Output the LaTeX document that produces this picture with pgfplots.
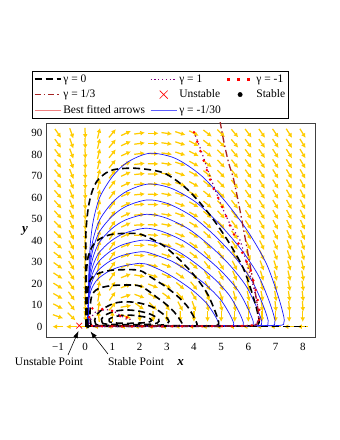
\documentclass[border=0pt]{standalone}
\usepackage{fontspec}
\setmainfont{Liberation Serif}
\usepackage{pgfplots}
\pgfplotsset{compat=1.18}
\usepackage{pgfplotstable}
\usetikzlibrary{arrows.meta}
\definecolor{arrowgold}{RGB}{255,204,0}
\definecolor{gbrown}{RGB}{165,35,35}
\definecolor{gpurple}{RGB}{128,0,128}
\definecolor{gblue}{RGB}{25,25,255}
\definecolor{gsalmon}{RGB}{240,128,128}

% direction field: screen angle (deg) of the arrow at x = -1 + 0.5*i (column ci), row y
\pgfplotstableread{
y c0 c1 c2 c3 c4 c5 c6 c7 c8 c9 c10 c11 c12 c13 c14 c15 c16 c17 c18
90.00 -55 -70 -88 76 50 25 8 0 -8 -18 -28 -38 -45 -50 -53 -55 -56 -57 -58
85.26 -54 -70 -88 76 50 25 8 0 -8 -18 -28 -38 -45 -50 -53 -55 -56 -57 -58
80.53 -53 -69 -88 76 51 25 7 -1 -8 -18 -28 -38 -45 -50 -53 -55 -57 -58 -59
75.79 -52 -69 -88 76 51 25 7 -1 -9 -19 -29 -39 -46 -51 -54 -56 -57 -58 -59
71.05 -51 -68 -88 76 52 25 6 -1 -9 -19 -29 -39 -46 -51 -54 -56 -58 -59 -60
66.32 -50 -68 -88 76 52 25 6 -2 -9 -19 -29 -39 -46 -51 -55 -57 -58 -60 -61
61.58 -49 -67 -88 76 53 25 6 -2 -10 -19 -29 -39 -46 -51 -55 -57 -59 -60 -62
56.84 -48 -67 -88 76 54 25 5 -2 -10 -20 -30 -40 -47 -52 -55 -58 -59 -61 -63
52.11 -47 -66 -88 76 54 25 5 -3 -10 -20 -30 -40 -47 -52 -56 -58 -60 -62 -63
47.37 -45 -65 -88 76 55 25 4 -3 -11 -21 -31 -41 -48 -53 -57 -60 -62 -64 -65
42.63 -42 -64 -88 77 55 24 3 -5 -12 -22 -32 -42 -49 -54 -58 -61 -63 -65 -67
37.89 -40 -62 -88 77 55 23 0 -8 -15 -25 -35 -45 -52 -57 -61 -64 -66 -68 -70
33.16 -38 -60 -88 77 55 22 -3 -10 -18 -28 -38 -48 -55 -60 -64 -67 -69 -71 -73
28.42 -36 -58 -87 78 55 22 -6 -13 -20 -31 -42 -52 -58 -63 -67 -70 -72 -74 -76
23.68 -33 -56 -87 78 55 21 -10 -17 -24 -35 -46 -56 -62 -67 -70 -73 -75 -77 -79
18.95 -32 -55 -87 79 55 20 -15 -22 -30 -40 -51 -61 -66 -71 -74 -76 -78 -80 -82
14.21 -30 -54 -86 80 55 18 -20 -28 -37 -47 -57 -66 -71 -75 -78 -80 -81 -82 -84
9.47 -28 -52 -85 82 50 10 -35 -45 -55 -62 -70 -75 -78 -80 -82 -83 -84 -85 -86
4.74 -20 -45 -80 95 90 -20 -85 -88 -89 -89 -90 -90 -90 -90 -90 -90 -90 -90 -90
0.00 180 180 0 180 180 180 180 180 180 180 180 180 180 180 180 180 180 180 180
}\fieldtab

\begin{document}
\begin{tikzpicture}
\path[use as bounding box] (0,0) rectangle (340pt,440pt);
\begin{axis}[
  at={(46pt,103pt)}, anchor=south west,
  scale only axis, width=269pt, height=214pt,
  xmin=-1.44, xmax=8.45, ymin=-4.8, ymax=94.8,
  axis line style={draw=black!75, line width=0.6pt},
  xtick={-1,0,...,8},
  xticklabels={−1,0,1,2,3,4,5,6,7,8},
  ytick={0,10,...,90},
  tick style={draw=none},
  /pgf/number format/assume math mode=true,
  ticklabel style={font=\fontsize{11}{13}\selectfont},
  xticklabel style={yshift=-3pt},
  legend columns=3,
  legend cell align=left,
  legend style={at={(axis description cs:-0.052,1.243)}, anchor=north west,
    draw=black, thin, font=\fontsize{11.5}{13}\selectfont, inner sep=1.5pt,
    row sep=2pt,
    /tikz/every even column/.append style={column sep=3pt}},
  legend image code/.code={\draw[#1] (0pt,0pt) -- (26pt,0pt);},
]

% ---- direction field ----
\pgfplotsinvokeforeach{0,...,18}{
  \addplot[forget plot, arrowgold, line width=1.25pt, -{Latex[length=4.5pt,width=4.8pt]},
    quiver={u={0.395*cos(\thisrow{c#1})}, v={5.0*sin(\thisrow{c#1})}}]
    table[x expr={-1+0.5*#1-0.197*cos(\thisrow{c#1})},
          y expr={\thisrow{y}-2.5*sin(\thisrow{c#1})}] {\fieldtab};
}

% ---- gamma = -1/30 (blue) ----
\pgfplotsset{bl/.style={forget plot, gblue, line width=0.7pt, smooth, tension=0.5}}
\addplot[bl] coordinates {(0.10,0.3)(0.119,12.1)(0.143,28.2)(0.202,40.35)(0.309,50.0)(0.547,60.5)(1.023,70.2)(1.571,76.7)(2.38,80.7)(3.321,78.3)(4.28,70.2)(5.166,58.1)(5.978,44.4)(6.642,29.9)(7.048,16.1)(7.269,6.46)(7.306,2.0)(7.011,0.5)(4.4,0.3)(1.8,0.3)(0.10,0.3)};
\addplot[bl] coordinates {(0.10,0.3)(0.117,9.96)(0.140,23.2)(0.198,33.2)(0.303,41.2)(0.536,49.8)(1.002,57.8)(1.538,63.1)(2.33,66.4)(3.168,64.4)(4.083,57.8)(4.928,47.8)(5.702,36.5)(6.336,24.6)(6.723,13.3)(6.934,5.31)(6.970,1.66)(6.688,0.4)(4.2,0.3)(1.8,0.3)(0.10,0.3)};
\addplot[bl] coordinates {(0.10,0.3)(0.115,8.85)(0.137,20.65)(0.195,29.5)(0.298,36.6)(0.527,44.25)(0.985,51.3)(1.511,56.05)(2.29,59.0)(3.056,57.2)(3.938,51.3)(4.753,42.5)(5.500,32.45)(6.111,21.8)(6.484,11.8)(6.688,4.72)(6.722,1.48)(6.451,0.4)(4.0,0.3)(1.8,0.3)(0.10,0.3)};
\addplot[bl] coordinates {(0.10,0.3)(0.113,7.85)(0.135,18.3)(0.191,26.15)(0.293,32.4)(0.518,39.2)(0.968,45.5)(1.485,49.7)(2.25,52.3)(2.948,50.7)(3.799,45.5)(4.585,37.7)(5.306,28.8)(5.895,19.35)(6.255,10.46)(6.452,4.18)(6.485,1.31)(6.223,0.4)(3.9,0.3)(1.7,0.3)(0.10,0.3)};
\addplot[bl] coordinates {(0.10,0.3)(0.110,6.87)(0.132,16.0)(0.187,22.9)(0.286,28.4)(0.506,34.35)(0.946,39.85)(1.452,43.5)(2.20,45.8)(2.808,44.4)(3.619,39.85)(4.368,33.0)(5.054,25.2)(5.616,16.95)(5.959,9.16)(6.146,3.66)(6.178,1.15)(5.928,0.4)(3.7,0.3)(1.6,0.3)(0.10,0.3)};
\addplot[bl] coordinates {(0.10,0.3)(0.107,6.05)(0.128,14.1)(0.182,20.15)(0.278,25.0)(0.492,30.2)(0.920,35.06)(1.412,38.3)(2.14,40.3)(2.642,39.1)(3.405,35.06)(4.109,29.0)(4.755,22.2)(5.283,14.9)(5.606,8.06)(5.782,3.22)(5.811,1.0)(5.577,0.4)(3.5,0.3)(1.5,0.3)(0.10,0.3)};
\addplot[bl] coordinates {(0.10,0.3)(0.104,5.24)(0.125,12.2)(0.177,17.45)(0.270,21.6)(0.478,26.2)(0.894,30.4)(1.373,33.2)(2.08,34.9)(2.480,33.85)(3.196,30.4)(3.857,25.1)(4.463,19.2)(4.959,12.9)(5.262,6.98)(5.427,2.79)(5.455,0.87)(5.235,0.4)(3.3,0.3)(1.4,0.3)(0.10,0.3)};
\addplot[bl] coordinates {(0.10,0.3)(0.0995,4.43)(0.119,10.3)(0.169,14.75)(0.259,18.3)(0.458,22.1)(0.856,25.7)(1.313,28.0)(1.99,29.5)(2.232,29.2)(2.877,25.7)(3.472,21.2)(4.018,16.2)(4.464,10.9)(4.737,5.9)(4.886,2.36)(4.910,0.74)(4.712,0.4)(3.0,0.3)(1.3,0.3)(0.10,0.3)};

% ---- gamma = 0 (black dashed) ----
\pgfplotsset{bk/.style={forget plot, black, line width=1.6pt, dash pattern=on 7pt off 4pt, smooth, tension=0.5}}
\addplot[bk] coordinates {(0.03,0.2)(0.02,14.7)(0.02,29.5)(0.03,44.2)(0.114,55.3)(0.247,62.6)(0.437,67.8)(0.76,71.5)(1.14,73.3)(1.9,73.7)(2.90,71.5)(3.74,64.1)(4.52,53.1)(5.22,40.5)(5.81,27.3)(6.16,14.7)(6.35,5.9)(6.39,1.84)(6.13,0.44)(4.5,0.2)(2.0,0.15)(0.5,0.15)(0.03,0.2)};
\addplot[bk] coordinates {(0.05,0.3)(0.04,8.7)(0.04,17.4)(0.05,26.0)(0.111,32.6)(0.241,36.9)(0.426,39.9)(0.74,42.1)(1.11,43.2)(1.85,43.4)(2.23,42.1)(2.87,37.8)(3.47,31.2)(4.01,23.9)(4.46,16.1)(4.73,8.7)(4.88,3.5)(4.90,1.1)(4.70,0.4)(3.5,0.25)(1.5,0.2)(0.05,0.3)};
\addplot[bk] coordinates {(0.1,0.4)(0.08,5.3)(0.08,10.6)(0.09,15.9)(0.125,19.9)(0.234,22.5)(0.414,24.4)(0.72,25.7)(1.08,26.4)(1.8,26.5)(2.1,25.7)(2.41,23.1)(2.905,19.1)(3.36,14.6)(3.735,9.8)(3.963,5.3)(4.088,2.12)(4.109,0.66)(3.94,0.3)(3.0,0.3)(1.5,0.3)(0.4,0.35)(0.1,0.4)};
\addplot[bk] coordinates {(0.22,0.6)(0.18,3.9)(0.18,7.8)(0.2,11.6)(0.25,14.6)(0.35,16.5)(0.5,17.8)(0.8,18.8)(1.15,19.3)(1.75,19.4)(2.05,18.8)(2.3,16.9)(2.6,14.0)(2.95,10.7)(3.25,7.2)(3.45,3.9)(3.56,1.6)(3.55,0.7)(3.3,0.45)(2.5,0.4)(1.2,0.4)(0.5,0.45)(0.22,0.6)};
\addplot[bk] coordinates {(0.4,1.0)(0.35,3)(0.45,6)(0.75,9)(1.1,11)(1.5,11.6)(2.0,11.0)(2.5,9.0)(2.9,5.5)(3.08,2.5)(2.9,0.9)(2.2,0.55)(1.2,0.55)(0.6,0.65)(0.4,1.0)};
\addplot[bk] coordinates {(0.65,1.5)(0.6,3.5)(0.8,5.8)(1.1,7.2)(1.5,7.8)(1.95,7.3)(2.4,5.8)(2.7,3.5)(2.65,1.7)(2.2,1.0)(1.4,0.95)(0.85,1.1)(0.65,1.5)};
\addplot[bk] coordinates {(0.9,2.2)(0.88,3.5)(1.1,4.7)(1.5,5.4)(1.9,5.1)(2.3,4.2)(2.45,3.0)(2.3,2.0)(1.8,1.6)(1.2,1.65)(0.9,2.2)};
\addplot[forget plot, black, line width=1.6pt, dash pattern=on 7pt off 4pt] coordinates {(0,0)(8.1,0)};

% ---- gamma = 1/3 (brown dash-dot) ----
\addplot[forget plot, gbrown, line width=1.3pt, dash pattern=on 7pt off 3pt on 1.5pt off 3pt, smooth, tension=0.5] coordinates {(4.96,95.5)(5.1,86)(5.28,76)(5.45,69)(5.69,54.3)(5.94,37.2)(6.12,24.8)(6.28,14)(6.37,6)(6.33,2)(6.0,0.5)(3,0.3)(0.3,0.3)};

% ---- gamma = 1 (purple dotted) ----
\addplot[forget plot, gpurple, line width=1.2pt, dash pattern=on 1.2pt off 3pt, smooth, tension=0.5] coordinates {(4.05,89)(4.28,81.4)(4.53,72.1)(4.8,63)(5.08,54.3)(5.4,46)(5.69,40.3)(5.94,29.5)(6.2,18)(6.35,9)(6.38,3.5)(6.2,0.8)(5,0.3)(2,0.2)(0.3,0.3)(0.2,3)(0.4,7)(0.91,7.8)(1.28,5.4)(1.58,3.1)(1.7,4.0)};

% ---- gamma = -1 (red dots) ----
\addplot[forget plot, red, line width=2.8pt, line cap=round, dash pattern=on 0pt off 10pt, smooth, tension=0.5] coordinates {(4.0,90.5)(4.16,84.6)(4.31,79.1)(4.59,68.6)(4.77,62.8)(4.96,58.2)(5.3,47.8)(5.48,42.7)(5.69,37.2)(5.84,32.3)(6.06,27.2)(6.25,18)(6.38,10)(6.42,4.5)(6.3,1.2)(5.8,0.3)(3.5,0.15)(1.0,0.15)(0.25,0.4)(0.15,2.5)(0.17,6.5)(0.24,8.5)(0.67,8.1)(1.1,7.0)(1.28,5.2)(1.3,3.9)(1.45,3.6)(1.55,4.2)(1.5,4.7)};

% ---- points ----
\addplot[forget plot, only marks, mark=x, red, mark size=4pt, line width=0.7pt] coordinates {(-0.22,0.47)};
\addplot[forget plot, only marks, mark=*, black, mark size=1.5pt] coordinates {(0.1,0)};

% ---- legend ----
\addlegendimage{black, line width=1.6pt, dash pattern=on 7pt off 4pt}\addlegendentry{γ = 0}
\addlegendimage{gpurple, line width=1.2pt, dash pattern=on 1.2pt off 2.6pt}\addlegendentry{γ = 1}
\addlegendimage{red, line width=2.5pt, dash pattern=on 2.5pt off 7.5pt}\addlegendentry{γ = -1}
\addlegendimage{gbrown, line width=1.3pt, dash pattern=on 6pt off 3pt on 1.5pt off 3pt}\addlegendentry{γ = 1/3}
\addlegendimage{legend image code/.code={\draw[red, line width=0.7pt] (9pt,-4pt) -- (17pt,4pt) (9pt,4pt) -- (17pt,-4pt);}}\addlegendentry{Unstable}
\addlegendimage{legend image code/.code={\fill[black] (13pt,0pt) circle (2.2pt);}}\addlegendentry{Stable}
\addlegendimage{gsalmon, line width=1pt}\addlegendentry{Best fitted arrows}
\addlegendimage{gblue!70!white, line width=1pt}\addlegendentry{γ = -1/30}
\end{axis}

% ---- annotations and axis labels ----
\draw[-{Latex[length=7pt,width=5pt]}, line width=0.6pt] (68pt,85pt) -- (78.5pt,109pt);
\draw[-{Latex[length=7pt,width=5pt]}, line width=0.6pt] (108pt,86pt) -- (90.5pt,108.5pt);
\node[font=\fontsize{11.5}{13}\selectfont] at (49pt,78.5pt) {Unstable Point};
\node[font=\fontsize{11.5}{13}\selectfont] at (136pt,78.5pt) {Stable Point};
\node[font=\fontsize{13}{15}\selectfont\bfseries\itshape] at (180.5pt,77pt) {x};
\node[font=\fontsize{13}{15}\selectfont\bfseries\itshape] at (25pt,209pt) {y};
\end{tikzpicture}
\end{document}
